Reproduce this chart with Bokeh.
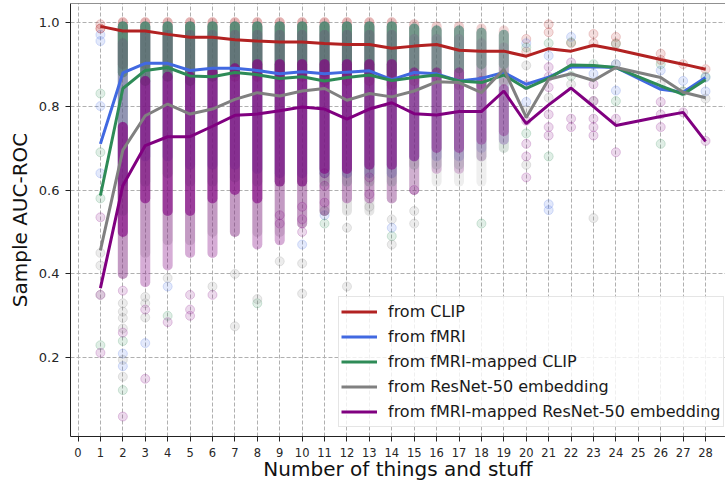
from bokeh.plotting import figure
from bokeh.models import (Range1d, FixedTicker, NumeralTickFormatter, Span,
                          Legend, LegendItem, ColumnDataSource)
from bokeh.embed import file_html
from bokeh.resources import INLINE

# ---------------- data ----------------
x_vals = list(range(1, 25)) + [26, 27, 28]
x_ticks = list(range(0, 29))
y_ticks = [0.2, 0.4, 0.6, 0.8, 1.0]

names = ["from CLIP", "from fMRI", "from fMRI-mapped CLIP",
         "from ResNet-50 embedding", "from fMRI-mapped ResNet-50 embedding"]

clip_mean = [0.990, 0.979, 0.979, 0.971, 0.964, 0.964, 0.958, 0.955, 0.953, 0.953,
             0.949, 0.947, 0.947, 0.938, 0.943, 0.947, 0.933, 0.931, 0.931, 0.919,
             0.937, 0.931, 0.945, 0.935, 0.911, 0.900, 0.888]
fmri_mean = [0.710, 0.879, 0.902, 0.902, 0.885, 0.890, 0.890, 0.885, 0.877, 0.882,
             0.877, 0.881, 0.884, 0.863, 0.880, 0.877, 0.860, 0.866, 0.880, 0.852,
             0.869, 0.893, 0.894, 0.892, 0.840, 0.833, 0.868]
fmri_clip_mean = [0.587, 0.842, 0.885, 0.892, 0.872, 0.870, 0.880, 0.875, 0.866, 0.870,
                  0.860, 0.868, 0.874, 0.861, 0.868, 0.874, 0.860, 0.856, 0.874, 0.842,
                  0.866, 0.898, 0.897, 0.892, 0.848, 0.828, 0.863]
resnet_mean = [0.456, 0.695, 0.777, 0.805, 0.781, 0.793, 0.816, 0.832, 0.824, 0.836,
               0.842, 0.814, 0.830, 0.822, 0.836, 0.858, 0.856, 0.832, 0.888, 0.773,
               0.864, 0.877, 0.861, 0.892, 0.868, 0.833, 0.820]
fmri_resnet_mean = [0.366, 0.611, 0.706, 0.727, 0.727, 0.752, 0.778, 0.781, 0.789, 0.798,
                    0.793, 0.769, 0.793, 0.808, 0.782, 0.779, 0.787, 0.787, 0.836, 0.758,
                    0.803, 0.843, 0.799, 0.754, 0.775, 0.785, 0.716]

# dense sample columns (x = 2 .. 19): extent of the bulk of the samples
band_x = list(range(2, 20))
band_samples = [50, 80, 85, 80, 75, 70, 65, 60, 55, 50, 45, 40, 35, 25, 20, 18, 15, 12]
clip_lo = [0.90, 0.90, 0.89, 0.88, 0.88, 0.87, 0.87, 0.87, 0.87, 0.86, 0.86, 0.86, 0.85,
           0.86, 0.87, 0.85, 0.85, 0.86]
clip_hi = [1.0, 1.0, 1.0, 1.0, 1.0, 1.0, 1.0, 1.0, 1.0, 1.0, 1.0, 1.0, 1.0,
           0.995, 0.99, 0.99, 0.985, 0.98]
fmri_lo = [0.62, 0.68, 0.68, 0.66, 0.66, 0.66, 0.65, 0.64, 0.64, 0.64, 0.64, 0.64, 0.64,
           0.68, 0.68, 0.68, 0.70, 0.72]
common_hi = [0.99, 0.99, 0.99, 0.99, 0.99, 0.99, 0.99, 0.99, 0.99, 0.99, 0.99, 0.99, 0.99,
             0.985, 0.98, 0.98, 0.975, 0.97]
fmri_clip_lo = [0.55, 0.62, 0.64, 0.62, 0.62, 0.63, 0.62, 0.62, 0.62, 0.62, 0.62, 0.62, 0.62,
                0.66, 0.66, 0.66, 0.68, 0.70]
fmri_clip_core_lo = [0.88, 0.86, 0.87, 0.86, 0.87, 0.88, 0.88, 0.88, 0.88, 0.88, 0.88, 0.88,
                     0.88, 0.89, 0.89, 0.89, 0.90, 0.90]
resnet_lo = [0.40, 0.45, 0.48, 0.48, 0.50, 0.50, 0.50, 0.50, 0.52, 0.55, 0.55, 0.55, 0.58,
             0.60, 0.62, 0.62, 0.62, 0.70]
fmri_resnet_lo = [0.40, 0.38, 0.42, 0.45, 0.45, 0.50, 0.47, 0.48, 0.52, 0.55, 0.58, 0.58,
                  0.58, 0.60, 0.65, 0.65, 0.68, 0.72]
fmri_resnet_top = [0.95, 0.97, 0.97, 0.97, 0.97, 0.97, 0.97, 0.97, 0.97, 0.97, 0.97, 0.97,
                   0.97, 0.96, 0.96, 0.96, 0.95, 0.94]
fmri_resnet_core_lo = [0.50, 0.58, 0.55, 0.55, 0.58, 0.60, 0.58, 0.62, 0.62, 0.65, 0.65,
                       0.66, 0.66, 0.68, 0.70, 0.70, 0.72, 0.74]
fmri_resnet_core_hi = [0.75, 0.86, 0.87, 0.87, 0.88, 0.89, 0.90, 0.90, 0.90, 0.90, 0.90,
                       0.90, 0.90, 0.88, 0.88, 0.88, 0.86, 0.84]

# individual (sparse) samples
clip_dots = {1: [0.995, 0.985, 0.985], 20: [0.96, 0.93], 21: [0.995, 0.976], 22: [0.95],
             23: [0.972, 0.95], 24: [0.965, 0.95], 26: [0.925, 0.91], 27: [0.90],
             28: [0.888]}
fmri_dots = {1: [0.97, 0.955, 0.80, 0.64], 2: [0.21, 0.18], 3: [0.235], 4: [0.37],
             10: [0.47], 11: [0.54], 14: [0.51], 20: [0.95, 0.81],
             21: [0.92, 0.566, 0.552], 22: [0.965], 23: [0.877], 24: [0.90, 0.837],
             26: [0.885], 27: [0.86], 28: [0.868, 0.835]}
fmri_clip_dots = {1: [0.83, 0.69, 0.58, 0.23], 2: [0.24, 0.123], 4: [0.30], 8: [0.33],
                  11: [0.55, 0.52], 14: [0.49], 18: [0.52], 20: [0.94, 0.735],
                  21: [0.95, 0.68], 22: [0.952, 0.872], 23: [0.90], 24: [0.948, 0.812],
                  26: [0.90, 0.71], 27: [0.835], 28: [0.87]}
resnet_dots = {1: [0.45, 0.42, 0.35], 2: [0.33, 0.31, 0.295, 0.27, 0.195, 0.155],
               3: [0.345, 0.33, 0.296], 4: [0.39], 6: [0.37], 7: [0.40, 0.275], 8: [0.34],
               9: [0.43], 10: [0.425, 0.353], 12: [0.51, 0.37], 13: [0.56],
               14: [0.53, 0.47], 15: [0.55, 0.52], 20: [0.897, 0.79, 0.66], 21: [0.82],
               22: [0.852], 23: [0.533, 0.812], 24: [0.90], 26: [0.852], 27: [0.835],
               28: [0.818]}
fmri_resnet_dots = {1: [0.535, 0.35, 0.212], 2: [0.36, 0.26, 0.06], 3: [0.315, 0.15],
                    4: [0.285], 5: [0.315, 0.30, 0.35], 6: [0.35], 9: [0.54, 0.52],
                    10: [0.56, 0.53, 0.50], 11: [0.64, 0.61, 0.57], 13: [0.63, 0.59],
                    15: [0.60], 20: [0.85, 0.765, 0.71, 0.68, 0.63],
                    21: [0.893, 0.87, 0.845, 0.78, 0.75, 0.73], 22: [0.904, 0.77, 0.75],
                    23: [0.852, 0.812, 0.77, 0.75, 0.73], 24: [0.77, 0.69],
                    26: [0.81, 0.78, 0.75], 27: [0.785], 28: [0.717]}

# ---------------- figure ----------------
p = figure(width=725, height=484, x_range=Range1d(-0.335, 28.89),
           y_range=Range1d(0.0124, 1.0446), output_backend="svg",
           toolbar_location=None, min_border_left=70, min_border_right=0,
           min_border_top=3, min_border_bottom=48)
p.outline_line_color = None
p.background_fill_color = "white"
p.border_fill_color = "white"

for g in (p.xgrid, p.ygrid):
    g.grid_line_color = "#b0b0b0"
    g.grid_line_dash = "4 2"
    g.grid_line_width = 1
p.xgrid.ticker = FixedTicker(ticks=x_ticks)
p.ygrid.ticker = FixedTicker(ticks=y_ticks)

p.xaxis.ticker = FixedTicker(ticks=x_ticks)
p.yaxis.ticker = FixedTicker(ticks=y_ticks)
p.yaxis.formatter = NumeralTickFormatter(format="0.0")
for ax in (p.xaxis, p.yaxis):
    ax.axis_line_color = "#222222"
    ax.major_tick_line_color = "#222222"
    ax.major_tick_out = 5
    ax.major_tick_in = 0
    ax.minor_tick_line_color = None
    ax.major_label_text_color = "#262626"
    ax.major_label_text_font = "DejaVu Sans"
    ax.axis_label_text_font = "DejaVu Sans"
    ax.axis_label_text_font_style = "normal"
    ax.axis_label_text_font_size = "20px"
    ax.axis_label_text_color = "#111111"
p.xaxis.major_label_text_font_size = "11.5px"
p.yaxis.major_label_text_font_size = "13px"
p.xaxis.major_label_standoff = 6
p.yaxis.major_label_standoff = 6
p.xaxis.axis_label = "Number of things and stuff"
p.yaxis.axis_label = "Sample AUC-ROC"
p.xaxis.axis_label_standoff = -3
p.yaxis.axis_label_standoff = 4

p.add_layout(Span(location=1.0446, dimension="width", line_color="#222222", line_width=1))

colors = ["#b22222", "#4169e1", "#2e8b57", "#808080", "#800080"]
means = [clip_mean, fmri_mean, fmri_clip_mean, resnet_mean, fmri_resnet_mean]
dots = [clip_dots, fmri_dots, fmri_clip_dots, resnet_dots, fmri_resnet_dots]
bands = [
    [(clip_lo, clip_hi, 0.35)],
    [(fmri_lo, common_hi, 0.32)],
    [(fmri_clip_lo, common_hi, 0.25), (fmri_clip_core_lo, common_hi, 0.6)],
    [(resnet_lo, common_hi, 0.22)],
    [(fmri_resnet_lo, fmri_resnet_top, 0.15),
     (fmri_resnet_lo, fmri_resnet_core_hi, 0.2),
     (fmri_resnet_core_lo, fmri_resnet_core_hi, 0.6)],
]

density = [min(1.0, (n / 45.0) ** 0.5) for n in band_samples]

for color, blist, dd in zip(colors, bands, dots):
    for lo, hi, a in blist:
        src = ColumnDataSource(dict(x=band_x, lo=lo, hi=hi,
                                    a=[a * d for d in density]))
        p.segment(x0="x", y0="lo", x1="x", y1="hi", source=src, line_color=color,
                  line_alpha="a", line_width=10, line_cap="round")
    xs, ys = [], []
    for k, vals in dd.items():
        for v in vals:
            xs.append(k)
            ys.append(v)
    p.scatter(xs, ys, size=9, fill_color=color, line_color=color,
              fill_alpha=0.15, line_alpha=0.2)

renderers = []
for color, m in zip(colors, means):
    r = p.line(x_vals, m, line_color=color, line_width=3)
    renderers.append(r)

legend = Legend(items=[LegendItem(label=n, renderers=[r]) for n, r in zip(names, renderers)],
                location=(268, 9))
legend.label_text_font = "DejaVu Sans"
legend.label_text_font_size = "16px"
legend.label_text_color = "#1a1a1a"
legend.glyph_width = 36
legend.glyph_height = 25
legend.label_height = 25
legend.label_standoff = 11
legend.spacing = 0
legend.padding = 2
legend.margin = 0
legend.border_line_color = "#cccccc"
legend.border_line_width = 1
legend.background_fill_alpha = 0.8
p.add_layout(legend, "center")

open("out.html", "w").write(file_html(p, INLINE))
